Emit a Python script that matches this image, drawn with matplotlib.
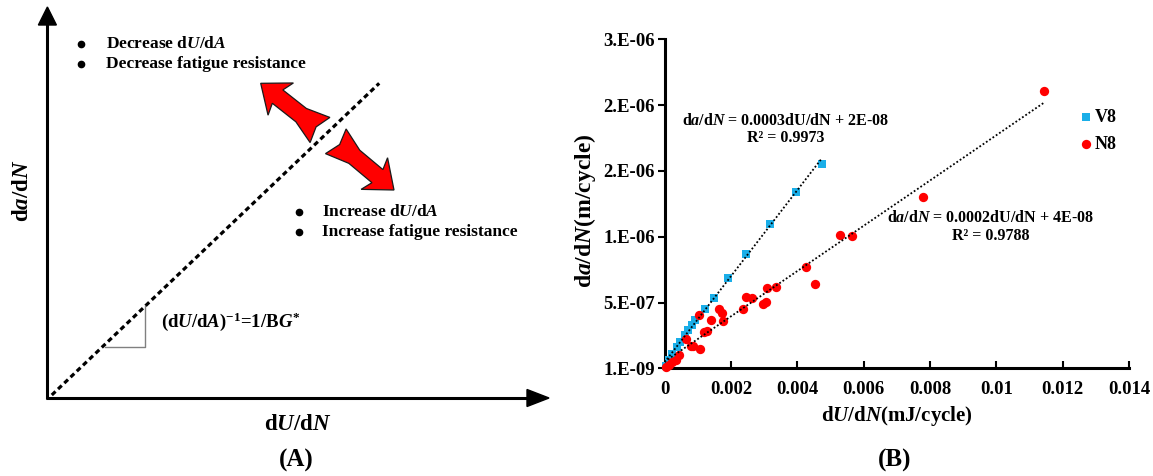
import numpy as np
import matplotlib
matplotlib.use("Agg")
import matplotlib.pyplot as plt
from matplotlib.patches import Polygon

plt.rcParams['font.family'] = ['Liberation Serif', 'DejaVu Serif']
plt.rcParams['font.weight'] = 'bold'
plt.rcParams['axes.labelweight'] = 'bold'
plt.rcParams['mathtext.fontset'] = 'custom'
plt.rcParams['mathtext.rm'] = 'Liberation Serif:bold'
plt.rcParams['mathtext.it'] = 'Liberation Serif:italic:bold'
plt.rcParams['mathtext.bf'] = 'Liberation Serif:bold'

# ---- panel B data ----
v8_x = [0.00004, 0.000128, 0.000234, 0.000372, 0.000479, 0.000606, 0.000713,
        0.000819, 0.000926, 0.001223, 0.001489, 0.001904, 0.002447, 0.003181,
        0.003957, 0.004734]
v8_y = [0.020e-6, 0.063e-6, 0.107e-6, 0.160e-6, 0.203e-6, 0.254e-6, 0.292e-6,
        0.330e-6, 0.368e-6, 0.449e-6, 0.538e-6, 0.685e-6, 0.871e-6, 1.099e-6,
        1.340e-6, 1.553e-6]
n8_x = [0.00005, 0.000128, 0.000234, 0.000340, 0.000447, 0.000649, 0.000798,
        0.000872, 0.001074, 0.001043, 0.001202, 0.001277, 0.001404, 0.001628,
        0.001745, 0.001766, 0.002351, 0.002447, 0.002638, 0.002968, 0.003074,
        0.003085, 0.003372, 0.004277, 0.004532, 0.005298, 0.005649, 0.007787,
        0.011436]
n8_y = [0.008e-6, 0.025e-6, 0.051e-6, 0.063e-6, 0.099e-6, 0.221e-6, 0.170e-6,
        0.170e-6, 0.145e-6, 0.406e-6, 0.279e-6, 0.287e-6, 0.368e-6, 0.449e-6,
        0.424e-6, 0.363e-6, 0.454e-6, 0.546e-6, 0.533e-6, 0.492e-6, 0.503e-6,
        0.614e-6, 0.617e-6, 0.769e-6, 0.645e-6, 1.013e-6, 1.008e-6, 1.305e-6,
        2.107e-6]
series_names = ['V8', 'N8']
eq_v8 = '$\\mathrm{d}a/\\mathrm{d}N$ = 0.0003dU/dN + 2E-08\nR\u00b2 = 0.9973'
eq_n8 = '$\\mathrm{d}a/\\mathrm{d}N$ = 0.0002dU/dN + 4E-08\nR\u00b2 = 0.9788'
yticks = [1e-9, 5e-7, 1e-6, 1.5e-6, 2e-6, 2.5e-6]
ytick_labels = ['1.E-09', '5.E-07', '1.E-06', '2.E-06', '2.E-06', '3.E-06']
xticks = [0, 0.002, 0.004, 0.006, 0.008, 0.01, 0.012, 0.014]
xtick_labels = ['0', '0.002', '0.004', '0.006', '0.008', '0.01', '0.012', '0.014']

W, H = 1153, 476
fig = plt.figure(figsize=(W / 100, H / 100), dpi=100)

# ---- panel A: schematic, drawn in pixel units ----
axa = fig.add_axes([0, 0, 580 / W, 1])
axa.set_xlim(0, 580)
axa.set_ylim(H, 0)
axa.axis('off')

ox, oy = 47.4, 398
axa.plot([ox, ox], [oy + 1, 22], color='black', lw=2.2, solid_capstyle='butt')
axa.plot([ox - 1, 530], [oy, oy], color='black', lw=2.2, solid_capstyle='butt')
axa.add_patch(Polygon([[ox, 7], [ox - 9, 25], [ox + 9, 25]], closed=True, color='black'))
axa.add_patch(Polygon([[549, oy], [527, oy - 8.5], [527, oy + 8.5]], closed=True, color='black'))

axa.plot([51.8, 379.2], [395, 83.3], color='black', lw=2.3, dashes=(1.6, 1.1))
axa.plot([104.7, 145, 145], [347, 347, 306], color='#808080', lw=1.0)

# fat red arrows: local shape (x along arrow, y across), then rotated
arrow_shape = np.array([[75.5, 0], [50, 20.5], [54, 8.5], [24, 8.5], [0, 16], [5, 0],
                        [0, -16], [24, -8.5], [54, -8.5], [50, -20.5]])
for tail, tip in [((320, 130), (260.7, 83.3)), ((335.8, 141.3), (394, 190))]:
    tail = np.array(tail)
    d = np.array(tip) - tail
    u = d / 75.5
    v = np.array([-u[1], u[0]])
    pts = tail + arrow_shape[:, :1] * u + arrow_shape[:, 1:] * v
    axa.add_patch(Polygon(pts, closed=True, facecolor='#ff0000', edgecolor='#1a1a1a',
                          lw=0.9, joinstyle='miter'))

fs_a = 12.5
for yy in (44, 64):
    axa.plot(81, yy, 'o', color='black', ms=4.5)
for yy in (212, 232):
    axa.plot(299, yy, 'o', color='black', ms=4.5)
axa.text(106, 44, 'Decrease d$U$/d$A$', fontsize=fs_a, va='center')
axa.text(106, 64, 'Decrease fatigue resistance', fontsize=fs_a, va='center')
axa.text(322, 212, 'Increase d$U$/d$A$', fontsize=fs_a, va='center')
axa.text(322, 232, 'Increase fatigue resistance', fontsize=fs_a, va='center')
axa.text(161, 322, '(d$U$/d$A$)$^{-1}$=1/B$G^{*}$', fontsize=13.5, va='center')
axa.text(298, 425, 'd$U$/d$N$', fontsize=16.5, ha='center', va='center')
axa.text(22, 191, 'd$a$/d$N$', fontsize=16.5, ha='center', va='center', rotation=90)
axa.text(296, 460, '(A)', fontsize=18, ha='center', va='center')

# ---- panel B: scatter with linear trend lines ----
axb = fig.add_axes([664.5 / W, (H - 368.3) / H, (1129 - 664.5) / W, (368.3 - 39.3) / H])
axb.scatter(v8_x, v8_y, marker='s', s=30, color='#1aaee8', label=series_names[0],
            zorder=3, clip_on=False, linewidths=0)
axb.scatter(n8_x, n8_y, marker='o', s=45, color='#ff0000', label=series_names[1],
            zorder=3, clip_on=False, linewidths=0)
for xs, ys in [(v8_x, v8_y), (n8_x, n8_y)]:
    k, b = np.polyfit(xs, ys, 1)
    xx = np.array([0, max(xs)])
    axb.plot(xx, k * xx + b, color='black', lw=1.3, ls=(0, (1, 1.2)), zorder=4)

axb.set_xlim(0, 0.014)
axb.set_ylim(1e-9, 2.5e-6)
axb.set_xticks(xticks)
axb.set_xticklabels(xtick_labels)
axb.set_yticks(yticks)
axb.set_yticklabels(ytick_labels)
axb.spines['top'].set_visible(False)
axb.spines['right'].set_visible(False)
axb.spines['left'].set_linewidth(2.2)
axb.spines['bottom'].set_linewidth(2.2)
axb.tick_params(axis='x', direction='in', length=5, width=1.5, labelsize=13.5, pad=9)
axb.tick_params(axis='y', direction='out', length=5, width=1.5, labelsize=13.5, pad=2)
axb.set_xlabel('d$U$/d$N$(mJ/cycle)', fontsize=15)
axb.set_ylabel('d$a$/d$N$(m/cycle)', fontsize=17)
axb.xaxis.set_label_coords((897 - 664.5) / (1129 - 664.5), -(404 - 368.3) / 329)
axb.yaxis.set_label_coords(-(664.5 - 598) / (1129 - 664.5), (368.3 - 211) / 329)

axb.text(0.00366, 1.815e-6, eq_v8, fontsize=11.5, ha='center', va='center', linespacing=1.15)
axb.text(0.00983, 1.074e-6, eq_n8, fontsize=11.5, ha='center', va='center', linespacing=1.15)
axb.legend(loc='upper left', bbox_to_anchor=(1081 / W, (H - 109) / H),
           bbox_transform=fig.transFigure, frameon=False, fontsize=13,
           handlelength=0.5, handletextpad=0.25, labelspacing=0.55,
           borderpad=0, borderaxespad=0)

fig.text(895 / W, 1 - 460 / H, '(B)', fontsize=18, ha='center', va='center')

fig.savefig('out.png', dpi=100)
